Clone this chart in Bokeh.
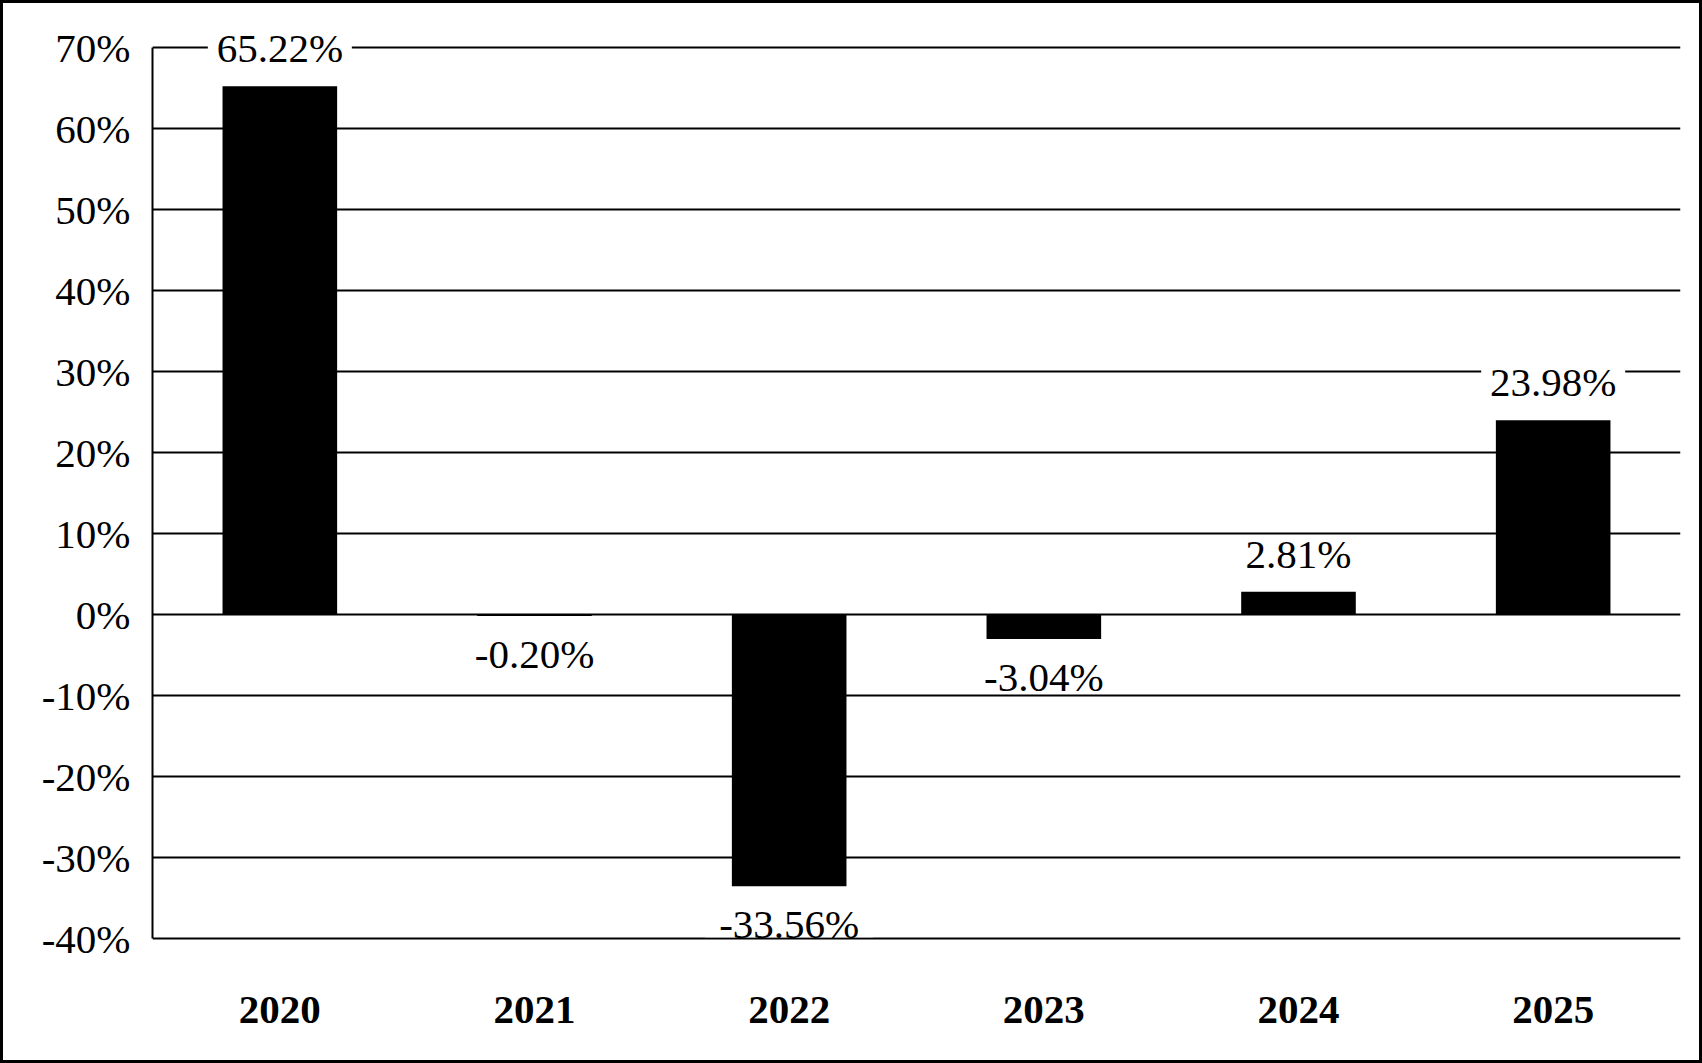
from bokeh.plotting import figure
from bokeh.layouts import column
from bokeh.models import ColumnDataSource, FactorRange, Range1d, FixedTicker
from bokeh.core.properties import value
from bokeh.embed import file_html
from bokeh.resources import INLINE

# ---- data ----
years = ["2020", "2021", "2022", "2023", "2024", "2025"]
returns = [65.22, -0.20, -33.56, -3.04, 2.81, 23.98]
labels = ["65.22%", "-0.20%", "-33.56%", "-3.04%", "2.81%", "23.98%"]
y_ticks = [-40, -30, -20, -10, 0, 10, 20, 30, 40, 50, 60, 70]
y_tick_labels = ["-40%", "-30%", "-20%", "-10%", "0%", "10%", "20%", "30%", "40%", "50%", "60%", "70%"]

# ---- layout constants (figure pixel coordinates) ----
BORDER = 3
W, H = 1696, 1057
FRAME_LEFT, FRAME_RIGHT = 149, 1677
Y_TOP_TICK, Y_BOTTOM_TICK = 70, -40
PX_TOP_TICK, PX_BOTTOM_TICK = 44, 935
FRAME_TOP, FRAME_BOTTOM = 16, 937
FONT = "Liberation Serif"
FS = "41px"
LABEL_OFFSET_PX = 38

px_per_unit = (PX_BOTTOM_TICK - PX_TOP_TICK) / (Y_TOP_TICK - Y_BOTTOM_TICK)
y_max = Y_TOP_TICK + (PX_TOP_TICK - FRAME_TOP) / px_per_unit
y_min = Y_BOTTOM_TICK - (FRAME_BOTTOM - PX_BOTTOM_TICK) / px_per_unit

label_y = [v + (LABEL_OFFSET_PX / px_per_unit) * (1 if v >= 0 else -1) for v in returns]
label_w = [len(s) * 24 for s in labels]

src = ColumnDataSource(dict(year=years, ret=returns, label=labels, ly=label_y, lw=label_w))

p = figure(
    x_range=FactorRange(*years, range_padding=0),
    y_range=Range1d(y_min, y_max),
    width=W, height=H,
    output_backend="svg", toolbar_location=None,
    min_border_left=FRAME_LEFT, min_border_right=W - FRAME_RIGHT,
    min_border_top=FRAME_TOP, min_border_bottom=H - FRAME_BOTTOM,
)
p.background_fill_color = "white"
p.border_fill_color = "white"
p.outline_line_color = None

p.vbar(x="year", top="ret", bottom=0, width=0.45, source=src,
       fill_color="black", line_color=None)

# white boxes behind the value labels
p.rect(x="year", y="ly", width="lw", height=26, width_units="screen", height_units="screen",
       source=src, fill_color="white", line_color=None)
p.text(x="year", y="ly", text="label", source=src,
       text_font=value(FONT), text_font_size=FS, text_color="black",
       text_align="center", text_baseline="middle")

# grid
p.xgrid.grid_line_color = None
p.ygrid.ticker = FixedTicker(ticks=y_ticks)
p.ygrid.grid_line_color = "black"
p.ygrid.grid_line_width = 2

# y axis
p.yaxis.ticker = FixedTicker(ticks=y_ticks)
p.yaxis.bounds = (Y_BOTTOM_TICK, Y_TOP_TICK)
p.yaxis.major_label_overrides = {t: s for t, s in zip(y_ticks, y_tick_labels)}
p.yaxis.axis_line_color = "black"
p.yaxis.axis_line_width = 2
p.yaxis.major_tick_line_color = None
p.yaxis.major_tick_out = 0
p.yaxis.major_tick_in = 0
p.yaxis.minor_tick_line_color = None
p.yaxis.major_label_standoff = 22
p.yaxis.major_label_text_font = FONT
p.yaxis.major_label_text_font_size = FS
p.yaxis.major_label_text_color = "black"

# x axis
p.xaxis.axis_line_color = None
p.xaxis.major_tick_line_color = None
p.xaxis.major_tick_out = 0
p.xaxis.major_tick_in = 0
p.xaxis.minor_tick_line_color = None
p.xaxis.major_label_standoff = 56
p.xaxis.major_label_text_font = FONT
p.xaxis.major_label_text_font_size = FS
p.xaxis.major_label_text_font_style = "bold"
p.xaxis.major_label_text_color = "black"

layout = column(p, styles={"border": f"{BORDER}px solid black"})

open("out.html", "w").write(file_html(layout, INLINE))
